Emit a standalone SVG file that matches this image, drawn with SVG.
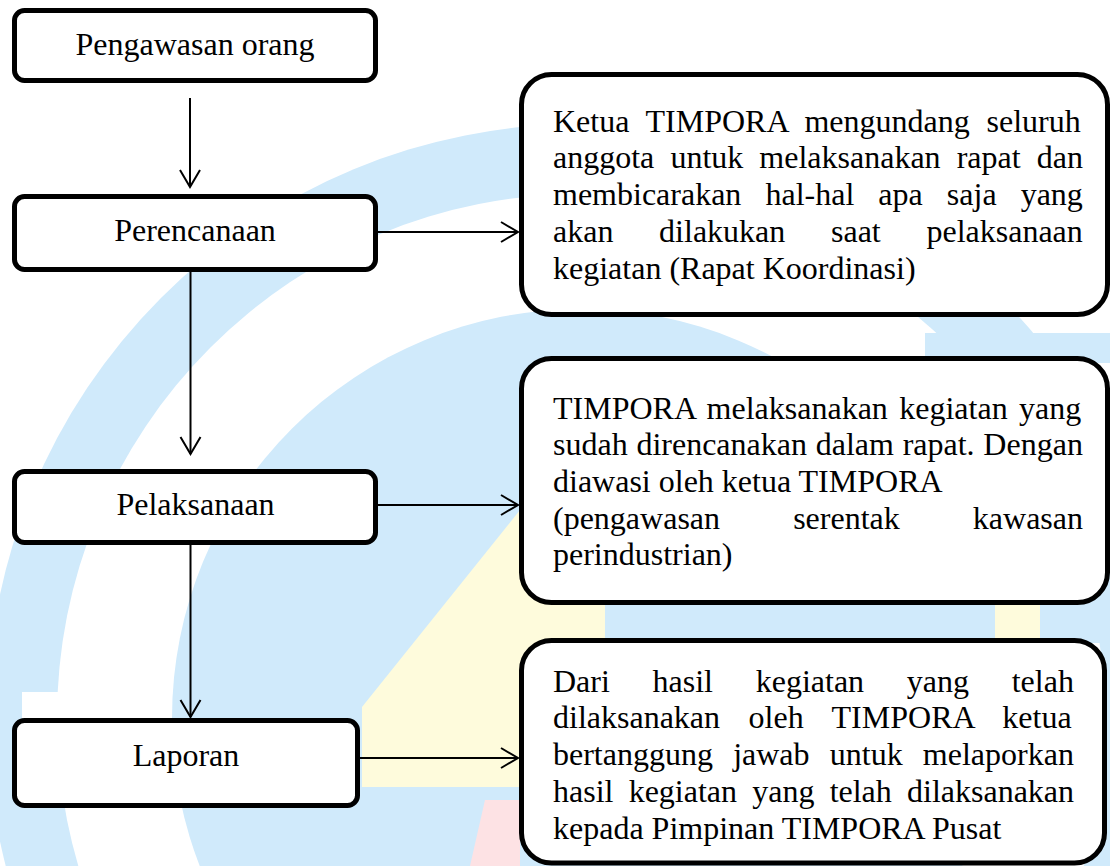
<svg xmlns="http://www.w3.org/2000/svg" width="1110" height="866" viewBox="0 0 1110 866">
  <defs>
    <marker id="arr" viewBox="-20 -12 23 24" refX="0" refY="0" markerWidth="23" markerHeight="24" markerUnits="userSpaceOnUse" orient="auto">
      <path d="M-17,-10 L0,0 L-17,10" fill="none" stroke="#000" stroke-width="2"/>
    </marker>
  </defs>
  <style>
    .box { fill: #fff; stroke: #000; stroke-width: 5; }
    .lbl { font-family: "Liberation Serif", "Times New Roman", serif; font-size: 32px; fill: #000; }
    .mid { text-anchor: middle; }
    .conn { stroke: #000; stroke-width: 2; fill: none; marker-end: url(#arr); }
    .wb { fill: #d0eafb; }
    .wy { fill: #fefbdc; }
    .wp { fill: #fde2e4; }
  </style>
  <rect x="0" y="0" width="1110" height="866" fill="#fff"/>
  <g id="watermark">
    <circle class="wb" cx="581" cy="718" r="594"/>
    <circle cx="581" cy="718" r="524" fill="#fff"/>
    <circle class="wb" cx="581" cy="718" r="409"/>
    <rect class="wb" x="925" y="333" width="185" height="30"/>
    <rect class="wb" x="880" y="598" width="230" height="45"/>
    <rect class="wy" x="995" y="603" width="45" height="36"/>
    <polygon class="wy" points="520,510 605,510 605,787 362,787 362,707"/>
    <polygon class="wp" points="485,800 520,800 520,866 470,866"/>
    <rect x="22" y="692" width="48" height="26" fill="#fff"/>
  </g>
  <g id="connectors">
    <line class="conn" x1="190" y1="98" x2="190" y2="187"/>
    <line class="conn" x1="190.5" y1="272" x2="190.5" y2="454"/>
    <line class="conn" x1="190.5" y1="545" x2="190.5" y2="717"/>
    <line class="conn" x1="378" y1="232" x2="518" y2="232"/>
    <line class="conn" x1="378" y1="505" x2="518" y2="505"/>
    <line class="conn" x1="360" y1="758" x2="518" y2="758"/>
  </g>
  <g id="n-pengawasan">
    <rect class="box" x="14.5" y="10.5" width="361" height="70" rx="10"/>
    <text class="lbl mid" x="195" y="55">Pengawasan orang</text>
  </g>
  <g id="n-perencanaan">
    <rect class="box" x="14.5" y="196.5" width="361" height="73" rx="10"/>
    <text class="lbl mid" x="195" y="240.5">Perencanaan</text>
  </g>
  <g id="n-pelaksanaan">
    <rect class="box" x="14.5" y="471.5" width="361" height="71" rx="10"/>
    <text class="lbl mid" x="195.5" y="514.5">Pelaksanaan</text>
  </g>
  <g id="n-laporan">
    <rect class="box" x="14.5" y="720.5" width="343" height="85" rx="10"/>
    <text class="lbl mid" x="186" y="766">Laporan</text>
  </g>
  <g id="d-perencanaan">
    <rect class="box" x="521.5" y="74.5" width="586" height="240" rx="30"/>
    <text class="lbl" x="553" y="131.7" word-spacing="8.7">Ketua TIMPORA mengundang seluruh</text>
    <text class="lbl" x="553" y="168.4" word-spacing="8.08">anggota untuk melaksanakan rapat dan</text>
    <text class="lbl" x="553" y="205.1" word-spacing="16.08">membicarakan hal-hal apa saja yang</text>
    <text class="lbl" x="553" y="241.8" word-spacing="37.7">akan dilakukan saat pelaksanaan</text>
    <text class="lbl" x="553" y="278.5">kegiatan (Rapat Koordinasi)</text>
  </g>
  <g id="d-pelaksanaan">
    <rect class="box" x="521.5" y="358.5" width="586" height="244" rx="30"/>
    <text class="lbl" x="553" y="418.6" word-spacing="3.37">TIMPORA melaksanakan kegiatan yang</text>
    <text class="lbl" x="553" y="455.3" word-spacing="0.75">sudah direncanakan dalam rapat. Dengan</text>
    <text class="lbl" x="553" y="492">diawasi oleh ketua TIMPORA</text>
    <text class="lbl" x="553" y="528.7" word-spacing="65.1">(pengawasan serentak kawasan</text>
    <text class="lbl" x="553" y="565.4">perindustrian)</text>
  </g>
  <g id="d-laporan">
    <rect class="box" x="521.5" y="640.5" width="583" height="222.5" rx="30"/>
    <text class="lbl" x="553" y="691.7" word-spacing="34.7">Dari hasil kegiatan yang telah</text>
    <text class="lbl" x="553" y="728.4" word-spacing="20.5">dilaksanakan oleh TIMPORA ketua</text>
    <text class="lbl" x="553" y="765.1" word-spacing="12.2">bertanggung jawab untuk melaporkan</text>
    <text class="lbl" x="553" y="801.8" word-spacing="7.2">hasil kegiatan yang telah dilaksanakan</text>
    <text class="lbl" x="553" y="838.5">kepada Pimpinan TIMPORA Pusat</text>
  </g>
</svg>
